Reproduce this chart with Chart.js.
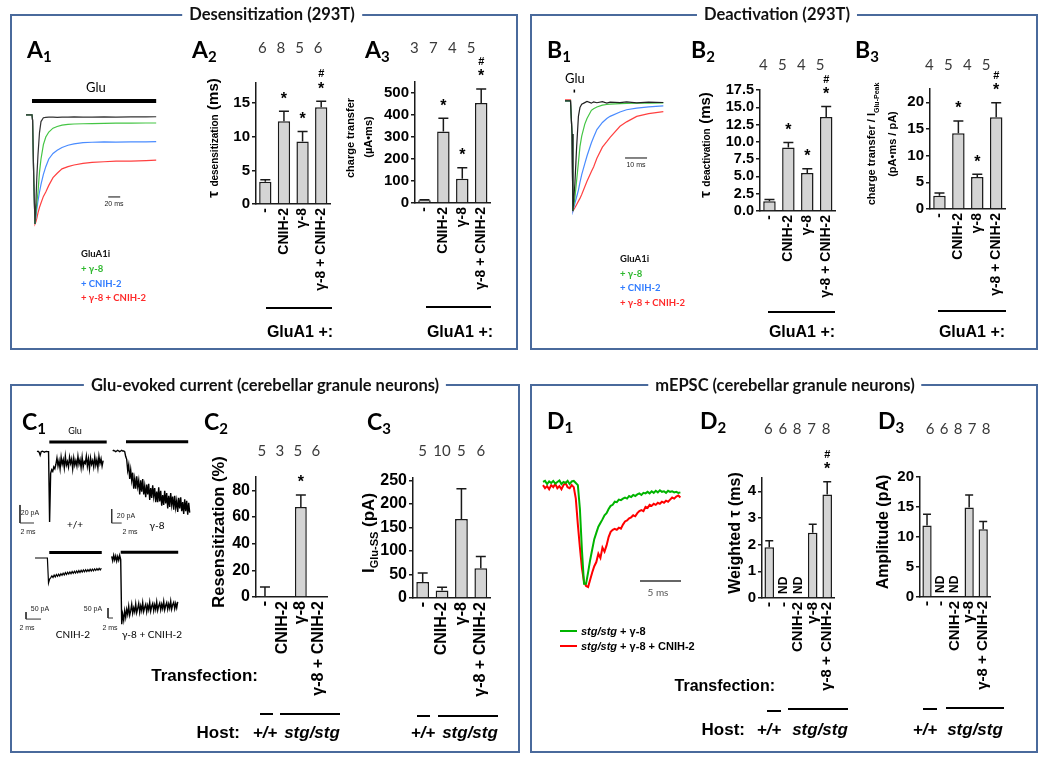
<!DOCTYPE html>
<html>
<head>
<meta charset="utf-8">
<script src="https://cdn.jsdelivr.net/npm/chart.js@4.4.1/dist/chart.umd.min.js"></script>
<style>
  body { margin: 0; background: #fff; }
  #fig { position: relative; width: 1050px; height: 764px; overflow: hidden; font-family: "Liberation Sans", Arial, sans-serif; color: #000; }
  .box { position: absolute; border: 2px solid #4a6a9c; box-sizing: border-box; }
  .ttl { position: absolute; transform: translate(-50%, -50%); background: #fff; padding: 0 7px; font: bold 16.5px Lato; white-space: nowrap; color: #111; line-height: 1; }
  canvas { position: absolute; }
  .t { position: absolute; white-space: nowrap; line-height: 1; }
  .c { transform: translate(-50%, -50%); }
  .l { transform: translate(0, -50%); }
  .rt { transform: translate(-100%, -50%); }
  .r { transform: translate(-50%, -50%) rotate(-90deg); }
  .pl { font: bold 23px Lato; }
  .pl sub { font-size: 15px; vertical-align: -4px; }
  .hl { position: absolute; height: 2px; background: #000; }
  .grp { font: bold 16px "Liberation Sans"; }
  .yt { font-weight: bold; }
  .sm { font: 7px "Liberation Sans"; color: #222; }
  .leg { font: 9.5px Lato; font-weight: bold; }
</style>
</head>
<body>
<div id="fig">
  <!-- boxes -->
  <div class="box" style="left:10px;top:14px;width:508px;height:336px"></div>
  <div class="box" style="left:530px;top:14px;width:508px;height:336px"></div>
  <div class="box" style="left:10px;top:384px;width:510px;height:369px"></div>
  <div class="box" style="left:530px;top:384px;width:508px;height:369px"></div>
  <div class="ttl" style="left:272px;top:14px">Desensitization (293T)</div>
  <div class="ttl" style="left:777px;top:14px">Deactivation (293T)</div>
  <div class="ttl" style="left:265px;top:385px">Glu-evoked current (cerebellar granule neurons)</div>
  <div class="ttl" style="left:785px;top:385px">mEPSC (cerebellar granule neurons)</div>

  <!-- trace canvases -->
  <canvas id="a1" width="145" height="145" style="left:20px;top:90px"></canvas>
  <canvas id="b1" width="110" height="130" style="left:560px;top:85px"></canvas>
  <canvas id="c1a" width="95" height="96" style="left:15px;top:436px"></canvas>
  <canvas id="c1b" width="90" height="96" style="left:105px;top:436px"></canvas>
  <canvas id="c1c" width="95" height="90" style="left:15px;top:540px"></canvas>
  <canvas id="c1d" width="90" height="90" style="left:100px;top:540px"></canvas>
  <canvas id="d1" width="150" height="125" style="left:538px;top:470px"></canvas>

  <!-- panel A -->
  <div class="t pl" style="left:27px;top:35px">A<sub>1</sub></div>
  <div class="t pl" style="left:192px;top:35px">A<sub>2</sub></div>
  <div class="t pl" style="left:365px;top:35px">A<sub>3</sub></div>
  <div class="t c" style="left:96px;top:87px;font:13px Lato">Glu</div>
  <div class="t c sm" style="left:114px;top:203px">20 ms</div>
  <div class="t l leg" style="left:81px;top:253px;color:#111">GluA1i</div>
  <div class="t l leg" style="left:81px;top:268px;color:#2eb82e">+ γ-8</div>
  <div class="t l leg" style="left:81px;top:283px;color:#2f7bff">+ CNIH-2</div>
  <div class="t l leg" style="left:81px;top:297px;color:#ff2a2a">+ γ-8 + CNIH-2</div>
  <div class="t r yt" style="left:213px;top:138px"><span style="font-size:15px">τ</span> <span style="font-size:10px">desensitization</span> <span style="font-size:15px">(ms)</span></div>
  <div class="t r yt" style="left:350px;top:138px;font-size:11px">charge transfer</div>
  <div class="t r yt" style="left:368px;top:137px;font-size:11px">(µA•ms)</div>
  <div class="hl" style="left:266px;top:307px;width:66px"></div>
  <div class="t c grp" style="left:300px;top:332px">GluA1 +:</div>
  <div class="hl" style="left:426px;top:306px;width:65px"></div>
  <div class="t c grp" style="left:460px;top:332px">GluA1 +:</div>

  <!-- panel B -->
  <div class="t pl" style="left:547px;top:35px">B<sub>1</sub></div>
  <div class="t pl" style="left:691px;top:35px">B<sub>2</sub></div>
  <div class="t pl" style="left:855px;top:35px">B<sub>3</sub></div>
  <div class="t c" style="left:575px;top:78px;font:13px Lato">Glu</div>
  <div class="t c sm" style="left:636px;top:164px">10 ms</div>
  <div class="t l leg" style="left:620px;top:258px;color:#111">GluA1i</div>
  <div class="t l leg" style="left:620px;top:273px;color:#2eb82e">+ γ-8</div>
  <div class="t l leg" style="left:620px;top:287px;color:#2f7bff">+ CNIH-2</div>
  <div class="t l leg" style="left:620px;top:302px;color:#ff2a2a">+ γ-8 + CNIH-2</div>
  <div class="t r yt" style="left:705px;top:145px"><span style="font-size:15px">τ</span> <span style="font-size:10px">deactivation</span> <span style="font-size:15px">(ms)</span></div>
  <div class="t r yt" style="left:873px;top:144px;font-size:11px">charge transfer / I<sub style="font-size:7px">Glu-Peak</sub></div>
  <div class="t r yt" style="left:892px;top:144px;font-size:11px">(pA•ms / pA)</div>
  <div class="hl" style="left:768px;top:311px;width:67px"></div>
  <div class="t c grp" style="left:802px;top:332px">GluA1 +:</div>
  <div class="hl" style="left:938px;top:310px;width:68px"></div>
  <div class="t c grp" style="left:972px;top:332px">GluA1 +:</div>

  <!-- panel C -->
  <div class="t pl" style="left:22px;top:407px">C<sub>1</sub></div>
  <div class="t pl" style="left:204px;top:407px">C<sub>2</sub></div>
  <div class="t pl" style="left:367px;top:407px">C<sub>3</sub></div>
  <div class="t c" style="left:75px;top:430px;font:9px Lato">Glu</div>
  <div class="t c sm" style="left:30px;top:512px">20 pA</div>
  <div class="t c sm" style="left:28px;top:531px">2 ms</div>
  <div class="t c" style="left:75px;top:524px;font:10px Lato">+/+</div>
  <div class="t c sm" style="left:126px;top:515px">20 pA</div>
  <div class="t c sm" style="left:130px;top:531px">2 ms</div>
  <div class="t c" style="left:157px;top:525px;font:10px Lato">γ-8</div>
  <div class="t c sm" style="left:40px;top:608px">50 pA</div>
  <div class="t c sm" style="left:27px;top:627px">2 ms</div>
  <div class="t c" style="left:73px;top:634px;font:10px Lato">CNIH-2</div>
  <div class="t c sm" style="left:93px;top:608px">50 pA</div>
  <div class="t c sm" style="left:110px;top:627px">2 ms</div>
  <div class="t c" style="left:152px;top:634px;font:10px Lato">γ-8 + CNIH-2</div>
  <div class="t r yt" style="left:218px;top:532px;font-size:16.5px">Resensitization (%)</div>
  <div class="t r yt" style="left:370px;top:533px;font-size:17px">I<sub style="font-size:11px">Glu-SS</sub> (pA)</div>
  <div class="t rt grp" style="left:258px;top:676px;font-size:17px">Transfection:</div>
  <div class="hl" style="left:260px;top:713px;width:13px"></div>
  <div class="hl" style="left:280px;top:713px;width:60px"></div>
  <div class="t rt grp" style="left:240px;top:733px;font-size:17px">Host:</div>
  <div class="t c grp" style="left:265px;top:733px;font-size:17px;font-style:italic">+/+</div>
  <div class="t c grp" style="left:312px;top:733px;font-size:17px;font-style:italic">stg/stg</div>
  <div class="hl" style="left:417px;top:715px;width:13px"></div>
  <div class="hl" style="left:438px;top:715px;width:60px"></div>
  <div class="t c grp" style="left:423px;top:733px;font-size:17px;font-style:italic">+/+</div>
  <div class="t c grp" style="left:470px;top:733px;font-size:17px;font-style:italic">stg/stg</div>

  <!-- panel D -->
  <div class="t pl" style="left:547px;top:406px">D<sub>1</sub></div>
  <div class="t pl" style="left:700px;top:406px">D<sub>2</sub></div>
  <div class="t pl" style="left:878px;top:406px">D<sub>3</sub></div>
  <div class="t c" style="left:658px;top:592px;font:10px Lato;color:#555">5 ms</div>
  <div class="hl" style="left:560px;top:630px;width:17px;background:#00b400"></div>
  <div class="hl" style="left:560px;top:645px;width:17px;background:#ff0000"></div>
  <div class="t l" style="left:581px;top:631px;font-size:11px;font-weight:bold"><i>stg/stg</i> + γ-8</div>
  <div class="t l" style="left:581px;top:646px;font-size:11px;font-weight:bold"><i>stg/stg</i> + γ-8 + CNIH-2</div>
  <div class="t r yt" style="left:735px;top:533px;font-size:16px">Weighted τ (ms)</div>
  <div class="t r yt" style="left:883px;top:532px;font-size:16px">Amplitude (pA)</div>
  <div class="t rt grp" style="left:775px;top:686px">Transfection:</div>
  <div class="hl" style="left:767px;top:710px;width:14px"></div>
  <div class="hl" style="left:788px;top:708px;width:60px"></div>
  <div class="t rt grp" style="left:745px;top:730px;font-size:17px">Host:</div>
  <div class="t c grp" style="left:769px;top:730px;font-size:17px;font-style:italic">+/+</div>
  <div class="t c grp" style="left:820px;top:730px;font-size:17px;font-style:italic">stg/stg</div>
  <div class="hl" style="left:923px;top:708px;width:14px"></div>
  <div class="hl" style="left:946px;top:707px;width:58px"></div>
  <div class="t c grp" style="left:925px;top:730px;font-size:17px;font-style:italic">+/+</div>
  <div class="t c grp" style="left:975px;top:730px;font-size:17px;font-style:italic">stg/stg</div>
</div>

<script>
// ---------------- data ----------------
var groups4 = ["-", "CNIH-2", "γ-8", "γ-8 + CNIH-2"];
var groups5 = ["-", "-", "CNIH-2", "γ-8", "γ-8 + CNIH-2"];

// A2 tau desensitization (ms)
var a2Mean = [3.3, 12.3, 9.3, 14.4];
var a2Err = [3.6, 13.8, 10.8, 15.3];
var a2Stars = ["", "*", "*", "*#"];
var a2N = [6, 8, 5, 6];
// A3 charge transfer (uA*ms)
var a3Mean = [12, 325, 110, 455];
var a3Err = [15, 385, 160, 518];
var a3Stars = ["", "*", "*", "*#"];
var a3N = [3, 7, 4, 5];
// B2 tau deactivation (ms)
var b2Mean = [1.4, 9.2, 5.5, 13.6];
var b2Err = [1.65, 9.9, 6.1, 15.1];
var b2Stars = ["", "*", "*", "*#"];
var b2N = [4, 5, 4, 5];
// B3 charge transfer / peak
var b3Mean = [2.5, 14.2, 6.0, 17.2];
var b3Err = [3.0, 16.5, 6.5, 19.9];
var b3Stars = ["", "*", "*", "*#"];
var b3N = [4, 5, 4, 5];
// C2 resensitization (%)
var c2Mean = [0.8, null, 67.5, null];
var c2Err = [7.5, null, 76.5, null];
var c2Stars = ["", "", "*", ""];
var c2N = [5, 3, 5, 6];
// C3 I Glu-SS (pA)
var c3Mean = [34, 16, 168, 63];
var c3Err = [53, 23, 232, 88];
var c3Stars = ["", "", "", ""];
var c3N = [5, 10, 5, 6];
// D2 weighted tau (ms), null = ND
var d2Mean = [1.9, null, null, 2.45, 3.88];
var d2Err = [2.15, null, null, 2.77, 4.36];
var d2Stars = ["", "", "", "", "*#"];
var d2N = [6, 6, 8, 7, 8];
// D3 amplitude (pA)
var d3Mean = [11.9, null, null, 14.9, 11.3];
var d3Err = [13.8, null, null, 17.0, 12.6];
var d3Stars = ["", "", "", "", ""];
var d3N = [6, 6, 8, 7, 8];

// A1 traces (ms, normalized current)
var a1Time = [0, 10, 11, 13, 15, 16.5, 18, 20, 22.5, 25, 29, 33, 38, 45, 52, 60, 70, 80, 95, 110, 130, 150, 175, 200, 217];
var a1Ctrl = [0, 0, -0.05, -0.6, -0.99, -0.8, -0.57, -0.36, -0.16, -0.06, -0.025, -0.022, -0.02, -0.02, -0.021, -0.019, -0.02, -0.018, -0.02, -0.019, -0.018, -0.02, -0.017, -0.018, -0.016];
var a1G8 = [0, 0, -0.05, -0.6, -0.99, -0.9, -0.8, -0.7, -0.52, -0.4, -0.27, -0.2, -0.155, -0.12, -0.105, -0.092, -0.086, -0.082, -0.08, -0.078, -0.077, -0.075, -0.075, -0.073, -0.073];
var a1Cnih = [0, 0, -0.05, -0.6, -0.99, -0.93, -0.86, -0.78, -0.7, -0.63, -0.54, -0.47, -0.4, -0.35, -0.32, -0.295, -0.275, -0.262, -0.252, -0.248, -0.245, -0.246, -0.244, -0.245, -0.243];
var a1Both = [0, 0, -0.05, -0.6, -0.99, -0.97, -0.94, -0.89, -0.84, -0.8, -0.74, -0.7, -0.64, -0.57, -0.53, -0.49, -0.47, -0.455, -0.44, -0.43, -0.425, -0.42, -0.42, -0.415, -0.41];

// B1 traces
var b1Time = [0, 2.5, 3.2, 3.6, 4.5, 5.3, 6.1, 6.8, 7.6, 9, 10, 12, 13, 14.5, 17, 19, 20.5, 25, 28, 32.6, 38, 44.7];
var b1Ctrl = [0, 0, -0.3, -1.0, -0.75, -0.415, -0.14, -0.06, -0.03, -0.015, -0.005, -0.02, -0.008, -0.016, -0.006, -0.02, -0.01, -0.015, -0.008, -0.018, -0.01, -0.014];
var b1G8 = [0, 0, -0.3, -1.0, -0.88, -0.72, -0.56, -0.415, -0.32, -0.21, -0.16, -0.085, -0.07, -0.055, -0.038, -0.032, -0.028, -0.024, -0.022, -0.02, -0.02, -0.018];
var b1Cnih = [0, 0, -0.3, -1.0, -0.93, -0.87, -0.81, -0.74, -0.67, -0.57, -0.5, -0.38, -0.33, -0.26, -0.195, -0.16, -0.14, -0.1, -0.08, -0.065, -0.053, -0.045];
var b1Both = [0.01, 0.01, -0.3, -1.0, -0.97, -0.94, -0.91, -0.885, -0.85, -0.78, -0.73, -0.64, -0.6, -0.52, -0.42, -0.37, -0.33, -0.23, -0.19, -0.14, -0.115, -0.097];

// C1 recordings (pA), sampled every dt ms
var c1WtDt = 0.15;
var c1Wt = [0, 0.5, -0.5, -4, 0, 0.5, 0, -0.5, 0, 0.3, 0, 0,
  -78, -24, -20, -22, -17, -19, -14,
  -7, -16, -10, -19, -6, -14, -9, -18, -5, -15, -11, -17, -6, -13, -8, -19, -7, -15, -10, -16,
  -5, -14, -9, -18, -6, -17, -11, -13, -5, -16, -8, -19, -7, -14, -10, -17, -6, -15, -9, -18,
  -5, -13, -8, -16, -10];
var c1G8Dt = 0.2;
var c1G8 = [0, 1, 0, -1, 0, 1, 0, -1, 0, 1, 0, 0, -1,
  -8, -12, -28, -20, -40, -27, -42, -31, -54, -40, -54, -36, -51, -42, -62, -42, -58, -40,
  -62, -50, -66, -48, -62, -47, -70, -53, -67, -49, -65, -53, -73, -58, -73, -52, -72, -57,
  -78, -63, -77, -57, -75, -60, -82, -64, -80, -60, -77, -65, -84, -64, -81, -71, -87, -67,
  -82, -66, -86, -73, -90, -69, -86, -71, -91, -74, -88];
var c1CnihDt = 0.15;
var c1Cnih = [0, 0, 0, 0, 0, 0, 0, 0, 0, 0, 0, 0,
  -178, -150, -140, -128, -140, -122, -135, -118, -131, -115, -128, -112, -124, -108, -121, -104,
  -118, -102, -115, -100, -113, -97, -110, -95, -108, -92, -106, -90, -104, -88, -101, -86, -99, -84,
  -97, -83, -95, -80, -93, -79, -91, -77, -89, -76, -87, -74, -85, -73];
var c1BothDt = 0.4;
var c1Both = [10, -12, 15, -8, 12, -14, 9, -10, 14, -6,
  -330, -280, -310, -262, -295, -255, -280, -240, -285, -262, -230, -275, -248, -268, -228, -272,
  -250, -226, -270, -238, -262, -222, -266, -245, -230, -268, -236, -258, -220, -264, -240, -226,
  -262, -232, -256, -218, -260, -238, -224, -258, -230, -252, -216, -258, -236, -222, -255, -228,
  -250, -214, -254, -232, -220, -252, -226, -248, -218];

// D1 mEPSC (normalized), sampled every 0.25 ms
var d1Dt = 0.25;
var d1G8 = [0.01, 0.02, -0.01, 0.015, 0, 0.02, -0.005, 0.01, 0.025, -0.01, 0.01, 0, 0.02, -0.01, 0.015, 0.02, 0,
  -0.02, -0.25, -0.65, -0.97, -0.97, -0.86, -0.74, -0.64, -0.54, -0.48, -0.42, -0.385, -0.35, -0.31,
  -0.29, -0.25, -0.22, -0.21, -0.18, -0.185, -0.16, -0.165, -0.15, -0.14, -0.15, -0.125, -0.135,
  -0.115, -0.125, -0.11, -0.1, -0.115, -0.095, -0.1, -0.085, -0.1, -0.08, -0.095, -0.075, -0.09,
  -0.07, -0.085, -0.08, -0.095, -0.075, -0.085, -0.08, -0.09, -0.085, -0.095, -0.09];
var d1Both = [-0.02, -0.05, -0.03, -0.06, -0.02, -0.04, -0.01, -0.05, -0.03, -0.06, -0.02, 0, -0.04, -0.05, -0.02,
  -0.04, -0.15, -0.4, -0.62, -0.82, -0.95, -0.99, -1.0, -0.93, -0.86, -0.8, -0.76, -0.68, -0.72,
  -0.62, -0.66, -0.6, -0.52, -0.47, -0.45, -0.44, -0.45, -0.43, -0.44, -0.4, -0.37, -0.36, -0.34,
  -0.33, -0.31, -0.32, -0.29, -0.27, -0.26, -0.27, -0.23, -0.24, -0.21, -0.22, -0.2, -0.21, -0.19,
  -0.2, -0.18, -0.19, -0.17, -0.18, -0.16, -0.14, -0.15, -0.13, -0.12, -0.14];

// ---------------- helpers ----------------
Chart.defaults.font.family = '"Liberation Sans", Arial, sans-serif';
Chart.defaults.color = "#000";

function pairs(times, vals) {
  return vals.map(function(v, i) { return { x: times[i], y: v }; });
}
function sampled(vals, dt) {
  return vals.map(function(v, i) { return { x: i * dt, y: v }; });
}
function seg(color, width, pts) {
  return { data: pts, borderColor: color, borderWidth: width, pointRadius: 0, fill: false, tension: 0, clip: false };
}
function trace(id, xr, yr, datasets) {
  return new Chart(document.getElementById(id), {
    type: "line",
    data: { datasets: datasets },
    options: {
      responsive: false, animation: false, events: [],
      layout: { padding: 0, autoPadding: false },
      plugins: { legend: { display: false }, tooltip: { enabled: false } },
      scales: {
        x: { type: "linear", display: false, min: xr[0], max: xr[1] },
        y: { type: "linear", display: false, min: yr[0], max: yr[1] }
      }
    }
  });
}

// error bars, stars, n and ND drawn from the chart scales
var barMarks = {
  id: "barMarks",
  afterDatasetsDraw: function(chart) {
    var ds = chart.data.datasets[0];
    var ctx = chart.ctx, xs = chart.scales.x, ys = chart.scales.y;
    var y0 = ys.getPixelForValue(0);
    ctx.save();
    ds.data.forEach(function(v, i) {
      var x = xs.getPixelForValue(i);
      var e = ds.errs[i];
      if (v !== null && e !== null) {
        var yb = ys.getPixelForValue(v), yt = ys.getPixelForValue(e);
        ctx.strokeStyle = "#1a1a1a";
        ctx.lineWidth = 1.5;
        ctx.beginPath();
        ctx.moveTo(x, yb); ctx.lineTo(x, yt);
        ctx.moveTo(x - ds.cap, yt); ctx.lineTo(x + ds.cap, yt);
        ctx.stroke();
        var s = ds.stars[i];
        ctx.fillStyle = "#000";
        ctx.textAlign = "center";
        ctx.textBaseline = "middle";
        if (s.indexOf("*") >= 0) {
          ctx.font = 'bold 16px "Liberation Sans"';
          ctx.fillText("*", x, yt - 12);
        }
        if (s.indexOf("#") >= 0) {
          ctx.font = 'bold 11px "Liberation Sans"';
          ctx.fillText("#", x, yt - 27);
        }
      }
      if (v === null && ds.nd) {
        ctx.save();
        ctx.translate(x, y0 - 4);
        ctx.rotate(-Math.PI / 2);
        ctx.font = 'bold 12px "Liberation Sans"';
        ctx.fillStyle = "#000";
        ctx.textAlign = "left";
        ctx.textBaseline = "middle";
        ctx.fillText("ND", 0, 0);
        ctx.restore();
      }
      ctx.font = "15px Lato";
      ctx.fillStyle = "#3a3a3a";
      ctx.textAlign = "center";
      ctx.textBaseline = "middle";
      ctx.fillText(String(ds.counts[i]), x + ds.nShift, chart.chartArea.top - ds.nTop);
    });
    ctx.restore();
  }
};

function barChart(g, labels, means, errs, stars, counts, o) {
  var cv = document.createElement("canvas");
  cv.width = g.right - g.axisX + 56;
  cv.height = g.zero - g.top + 175;
  cv.style.left = (g.axisX - 48) + "px";
  cv.style.top = (g.top - 60) + "px";
  var fig = document.getElementById("fig");
  fig.insertBefore(cv, fig.firstChild);
  return new Chart(cv, {
    type: "bar",
    data: {
      labels: labels,
      datasets: [{
        data: means, errs: errs, stars: stars, counts: counts,
        nTop: o.nTop, nShift: o.nShift, nd: !!o.nd, cap: o.cap || 5,
        backgroundColor: "#d4d4d4", borderColor: "#1a1a1a", borderWidth: 1.5,
        barPercentage: 0.66, categoryPercentage: 1
      }]
    },
    options: {
      responsive: false, animation: false, events: [],
      layout: { padding: { top: 60, right: 8, left: 0, bottom: 0 }, autoPadding: false },
      plugins: { legend: { display: false }, tooltip: { enabled: false } },
      scales: {
        x: {
          grid: { display: false, drawTicks: false },
          border: { display: true, color: "#1a1a1a", width: 1.5 },
          ticks: { autoSkip: false, minRotation: 90, maxRotation: 90, padding: 4, color: "#000",
                   font: { weight: "bold", size: o.cat } },
          afterFit: function(s) { s.height = 115; }
        },
        y: {
          min: 0, max: o.max,
          ticks: { autoSkip: false, padding: 2, color: "#000", font: { weight: "bold", size: o.tick },
                   callback: function(v) { return Number(v).toFixed(o.dec || 0); } },
          grid: { drawOnChartArea: false, drawTicks: true, tickLength: 4, color: "#1a1a1a", lineWidth: 1.5 },
          border: { display: true, color: "#1a1a1a", width: 1.5 },
          afterBuildTicks: function(s) {
            var t = [];
            for (var k = 0; k * o.step <= o.max + 1e-9; k++) t.push({ value: k * o.step });
            s.ticks = t;
          },
          afterFit: function(s) { s.width = 48; }
        }
      }
    },
    plugins: [barMarks]
  });
}

// ---------------- traces ----------------
trace("a1", [-10, 231.7], [-1.091, 0.227], [
  seg("#333333", 1.2, pairs(a1Time, a1Ctrl)),
  seg("#44c544", 1.2, pairs(a1Time, a1G8)),
  seg("#4a8cff", 1.2, pairs(a1Time, a1Cnih)),
  seg("#ff4040", 1.2, pairs(a1Time, a1Both)),
  seg("#000", 4, [{ x: 10, y: 0.127 }, { x: 217, y: 0.127 }]),
  seg("#333", 1.2, [{ x: 137, y: -0.745 }, { x: 157, y: -0.745 }])
]);

trace("b1", [-2.27, 47.73], [-1.036, 0.145], [
  seg("#222222", 1.2, pairs(b1Time, b1Ctrl)),
  seg("#44c544", 1.2, pairs(b1Time, b1G8)),
  seg("#4a8cff", 1.2, pairs(b1Time, b1Cnih)),
  seg("#ff4040", 1.2, pairs(b1Time, b1Both)),
  seg("#000", 3, [{ x: 3.9, y: 0.09 }, { x: 4.6, y: 0.09 }]),
  seg("#333", 1.2, [{ x: 27.3, y: -0.518 }, { x: 37.3, y: -0.518 }])
]);

trace("c1a", [-3.143, 10.43], [-89.2, 17.4], [
  seg("#000", 1.4, sampled(c1Wt, c1WtDt)),
  seg("#000", 3, [{ x: 1.76, y: 10.8 }, { x: 9.96, y: 10.8 }]),
  seg("#333", 1, [{ x: -2.43, y: -59.2 }, { x: -2.43, y: -79.2 }, { x: -0.43, y: -79.2 }])
]);
trace("c1b", [-1.54, 16.46], [-115.7, 21.4], [
  seg("#000", 1.4, sampled(c1G8, c1G8Dt)),
  seg("#000", 3, [{ x: 2.66, y: 13.3 }, { x: 15.1, y: 13.3 }]),
  seg("#333", 1, [{ x: -0.2, y: -82.9 }, { x: -0.2, y: -102.9 }, { x: 1.8, y: -102.9 }])
]);
trace("c1c", [-2.67, 10.0], [-514, 128.6], [
  seg("#000", 1.2, sampled(c1Cnih, c1CnihDt)),
  seg("#000", 3, [{ x: 1.9, y: 39 }, { x: 8.9, y: 39 }]),
  seg("#333", 1, [{ x: -1.2, y: -386 }, { x: -1.2, y: -436 }, { x: 0.8, y: -436 }])
]);
trace("c1d", [-4.68, 31.32], [-358.5, 91.5], [
  seg("#000", 1.4, sampled(c1Both, c1BothDt)),
  seg("#000", 3, [{ x: 3.6, y: 30 }, { x: 26.6, y: 30 }]),
  seg("#333", 1, [{ x: -1.48, y: -248.5 }, { x: -1.48, y: -298.5 }, { x: 0.52, y: -298.5 }])
]);

trace("d1", [-0.61, 17.68], [-1.077, 0.125], [
  seg("#00b400", 2, sampled(d1G8, d1Dt)),
  seg("#ff0000", 2, sampled(d1Both, d1Dt)),
  seg("#333", 1.5, [{ x: 11.83, y: -0.942 }, { x: 16.83, y: -0.942 }])
]);

// ---------------- bar charts ----------------
barChart({ axisX: 256, top: 83, zero: 204, right: 335 }, groups4, a2Mean, a2Err, a2Stars, a2N,
  { max: 18, step: 5, tick: 15, cat: 14, nTop: 35, nShift: -3 });
barChart({ axisX: 415, top: 82, zero: 203, right: 495 }, groups4, a3Mean, a3Err, a3Stars, a3N,
  { max: 550, step: 100, tick: 15, cat: 14, nTop: 34, nShift: -10 });
barChart({ axisX: 760, top: 90, zero: 211, right: 840 }, groups4, b2Mean, b2Err, b2Stars, b2N,
  { max: 17.5, step: 2.5, dec: 1, tick: 14.5, cat: 14, nTop: 25, nShift: -6 });
barChart({ axisX: 930, top: 89, zero: 209, right: 1010 }, groups4, b3Mean, b3Err, b3Stars, b3N,
  { max: 22.5, step: 5, tick: 15, cat: 14, nTop: 24, nShift: -10 });
barChart({ axisX: 256, top: 477, zero: 597, right: 335 }, groups4, c2Mean, c2Err, c2Stars, c2N,
  { max: 90, step: 20, tick: 16, cat: 16, nTop: 26, nShift: -3 });
barChart({ axisX: 413, top: 478, zero: 598, right: 497 }, groups4, c3Mean, c3Err, c3Stars, c3N,
  { max: 255, step: 50, tick: 16, cat: 16, nTop: 27, nShift: 0 });
barChart({ axisX: 762, top: 478, zero: 598, right: 842 }, groups5, d2Mean, d2Err, d2Stars, d2N,
  { max: 4.5, step: 1, tick: 15, cat: 15, nTop: 49, nShift: -1, nd: true, cap: 4 });
barChart({ axisX: 920, top: 477, zero: 597, right: 998 }, groups5, d3Mean, d3Err, d3Stars, d3N,
  { max: 20, step: 5, tick: 15, cat: 15, nTop: 48, nShift: 3, nd: true, cap: 4 });
</script>
</body>
</html>
